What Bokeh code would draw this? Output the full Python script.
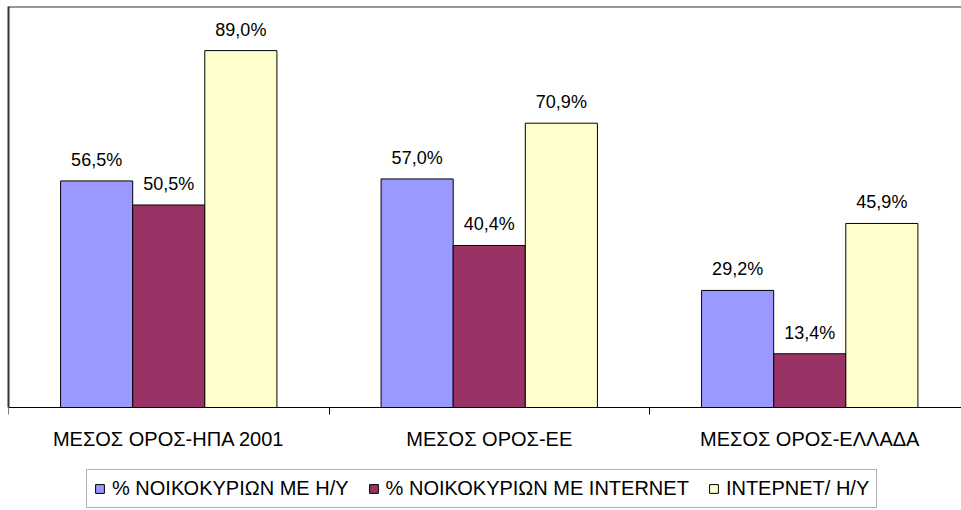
from bokeh.plotting import figure
from bokeh.models import Range1d, FixedTicker, ColumnDataSource, Legend, LegendItem, Span
from bokeh.transform import dodge
from bokeh.core.properties import value
from bokeh.embed import file_html
from bokeh.resources import INLINE

categories = ["ΜΕΣΟΣ ΟΡΟΣ-ΗΠΑ 2001", "ΜΕΣΟΣ ΟΡΟΣ-ΕΕ", "ΜΕΣΟΣ ΟΡΟΣ-ΕΛΛΑΔΑ"]
series_names = ["% ΝΟΙΚΟΚΥΡΙΩΝ ΜΕ Η/Υ", "% ΝΟΙΚΟΚΥΡΙΩΝ ΜΕ INTERNET", "INTEPNET/ Η/Υ"]
pc_households = [56.5, 57.0, 29.2]
internet_households = [50.5, 40.4, 13.4]
internet_per_pc = [89.0, 70.9, 45.9]
colors = ["#9999FF", "#993366", "#FFFFCC"]

FONT = "Liberation Sans"
centers = [i + 0.5 for i in range(len(categories))]
bar_w = 0.225
offsets = [-bar_w, 0.0, bar_w]
series = [pc_households, internet_households, internet_per_pc]

FW = 964          # frame width in px (runs past the right edge like the original)
PX_PER_CAT = 320.5
PLOT_H = 401      # px from 0% to 100%
EXTRA_H = 104     # px below the zero line (category labels + legend)
px_per_pct = PLOT_H / 100.0

p = figure(frame_width=FW, frame_height=PLOT_H + EXTRA_H,
           x_range=Range1d(0, FW / PX_PER_CAT),
           y_range=Range1d(-EXTRA_H / px_per_pct, 100),
           output_backend="svg", toolbar_location=None,
           min_border_left=8, min_border_right=0, min_border_top=6, min_border_bottom=0)
p.background_fill_color = "white"
p.border_fill_color = "white"
p.outline_line_color = None
p.xgrid.visible = False
p.ygrid.visible = False

# top border line
p.add_layout(Span(location=100, dimension="width", line_color="#333333", line_width=2))

# left axis: line only, from 0 to 100
ya = p.yaxis[0]
ya.bounds = (0, 100)
ya.ticker = FixedTicker(ticks=[])
ya.major_label_text_font_size = "0px"
ya.major_tick_line_color = None
ya.minor_tick_line_color = None
ya.axis_line_color = "#333333"
ya.axis_line_width = 2

renderers = []
for vals, off, col in zip(series, offsets, colors):
    src = ColumnDataSource(dict(
        x=centers, top=vals,
        label=[("%.1f" % v).replace(".", ",") + "%" for v in vals]))
    r = p.vbar(x=dodge("x", off), top="top", width=bar_w, bottom=0, source=src,
               fill_color=col, line_color="black", line_width=1)
    renderers.append(r)
    p.text(x=dodge("x", off), y="top", text="label", source=src,
           text_align="center", text_baseline="alphabetic", y_offset=-21,
           text_font=value(FONT), text_font_size="18px", text_color="black")

ax = p.xaxis[0]
ax.fixed_location = 0
ax.ticker = FixedTicker(ticks=centers, minor_ticks=[0, 1, 2, 3])
ax.major_label_overrides = {c: cat for c, cat in zip(centers, categories)}
ax.major_tick_out = 0
ax.major_tick_in = 0
ax.minor_tick_out = 7
ax.minor_tick_in = 0
ax.minor_tick_line_color = "black"
ax.axis_line_color = "black"
ax.axis_line_width = 1
ax.major_label_standoff = 13
ax.major_label_text_font = FONT
ax.major_label_text_font_size = "20px"
ax.major_label_text_color = "black"

legend = Legend(items=[LegendItem(label=n, renderers=[r]) for n, r in zip(series_names, renderers)],
                orientation="horizontal", location=(78, 3),
                label_text_font=FONT, label_text_font_size="20px", label_text_color="black",
                glyph_width=11, glyph_height=11, label_standoff=7, spacing=19,
                padding=7, margin=0, border_line_color="#666666", border_line_width=1,
                background_fill_color="white")
p.add_layout(legend, "center")

open("out.html", "w").write(file_html(p, INLINE))
